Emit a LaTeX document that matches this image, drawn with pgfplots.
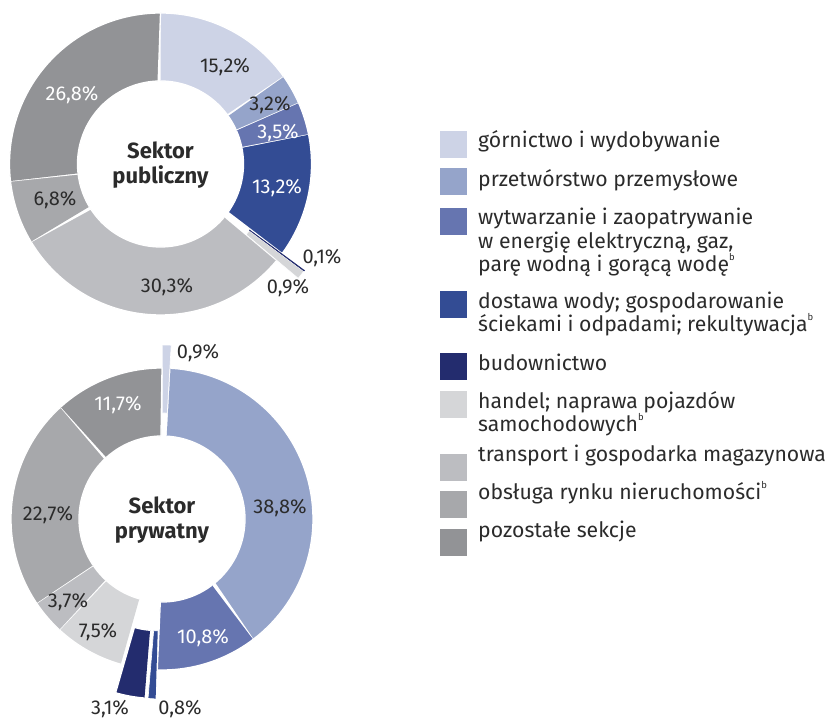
\documentclass[border=0pt]{standalone}
\usepackage{pgfplots}
\pgfplotsset{compat=1.18}
\usepackage{fontspec}
\setmainfont{Fira Sans}

\definecolor{gorn}{HTML}{CDD3E6}
\definecolor{przet}{HTML}{95A4CA}
\definecolor{wytw}{HTML}{6675B0}
\definecolor{dost}{HTML}{334C94}
\definecolor{bud}{HTML}{232C6E}
\definecolor{hand}{HTML}{D5D6D8}
\definecolor{trans}{HTML}{BCBDC1}
\definecolor{obsl}{HTML}{A7A8AB}
\definecolor{pozo}{HTML}{929396}
\definecolor{txt}{HTML}{2B2B2B}

\tikzset{
  lab/.style={font=\fontsize{20}{22}\selectfont, text=txt, inner sep=0pt},
  wlab/.style={font=\fontsize{20}{22}\selectfont, text=white, inner sep=0pt},
  leg/.style={font=\fontsize{21.2}{23}\selectfont, text=txt, anchor=base west, inner sep=0pt},
  box/.style={minimum size=27pt, inner sep=0pt},
  ctr/.style={align=center, text=txt, font=\bfseries\fontsize{22}{25.5}\selectfont},
}

% ring sector: [style]{cx}{cy}{start %}{share %}{colour}{explode}
\newcommand{\sector}[7][draw=white,line width=1.3pt]{%
  \addplot[fill=#6, #1, domain=0:2, samples=121, variable=\t]
  ({#2 + #7*cos(90-3.6*(#4+#5/2)) + (\t<=1 ? 151 : 83)*cos(90-3.6*(#4+#5*(\t<=1 ? \t : 2-\t)))},
   {#3 + #7*sin(90-3.6*(#4+#5/2)) + (\t<=1 ? 151 : 83)*sin(90-3.6*(#4+#5*(\t<=1 ? \t : 2-\t)))});
}
\newcommand{\supb}{\raisebox{0.55em}{\fontsize{9.5}{9.5}\selectfont b}}

\begin{document}
\begin{tikzpicture}
\useasboundingbox (0,0) rectangle (830pt,722pt);
\begin{axis}[
  at={(0,0)}, anchor=south west,
  hide axis, scale only axis,
  width=830pt, height=722pt,
  xmin=0, xmax=830, ymin=0, ymax=722,
  clip=false,
]
% Sektor publiczny
\sector{160.5}{558}{0}{15.2}{gorn}{0}
\sector{160.5}{558}{15.2}{3.2}{przet}{0}
\sector{160.5}{558}{18.4}{3.5}{wytw}{0}
\sector{160.5}{558}{21.9}{13.2}{dost}{0}
\sector[draw=bud,line width=0.7pt]{160.5}{558}{35.1}{0.1}{bud}{28}
\sector[draw=white,line width=0.6pt]{160.5}{558}{35.2}{0.9}{hand}{28}
\sector{160.5}{558}{36.1}{30.3}{trans}{0}
\sector{160.5}{558}{66.4}{6.8}{obsl}{0}
\sector{160.5}{558}{73.2}{26.8}{pozo}{0}

% Sektor prywatny
\sector[draw=white,line width=0.6pt]{162}{203}{0}{0.9}{gorn}{23}
\sector{162}{203}{0.9}{38.8}{przet}{0}
\sector{162}{203}{39.7}{10.8}{wytw}{0}
\sector[draw=white,line width=0.6pt]{162}{203}{50.5}{0.8}{dost}{29}
\sector[draw=white,line width=1.3pt]{162}{203}{51.3}{3.1}{bud}{29}
\sector{162}{203}{54.4}{7.5}{hand}{0}
\sector{162}{203}{61.9}{3.7}{trans}{0}
\sector{162}{203}{65.6}{22.7}{obsl}{0}
\sector{162}{203}{88.3}{11.7}{pozo}{0}

% labels, top
\node[lab]  at (axis cs:225,655) {15,2\%};
\node[lab]  at (axis cs:270,617) {3,2\%};
\node[wlab] at (axis cs:278,589) {3,5\%};
\node[wlab] at (axis cs:277,534) {13,2\%};
\node[lab]  at (axis cs:322,464) {0,1\%};
\node[lab]  at (axis cs:288,434) {0,9\%};
\node[lab]  at (axis cs:167,435) {30,3\%};
\node[lab]  at (axis cs:55,522)  {6,8\%};
\node[wlab] at (axis cs:72,627)  {26,8\%};
\node[ctr] at (axis cs:160.5,557) {Sektor\\publiczny};

% labels, bottom
\node[lab]  at (axis cs:198,369) {0,9\%};
\node[lab]  at (axis cs:280,214) {38,8\%};
\node[wlab] at (axis cs:203,84)  {10,8\%};
\node[lab]  at (axis cs:180,13)  {0,8\%};
\node[lab]  at (axis cs:110,13)  {3,1\%};
\node[lab]  at (axis cs:98,90)   {7,5\%};
\node[lab]  at (axis cs:68,120)  {3,7\%};
\node[lab]  at (axis cs:48,207)  {22,7\%};
\node[wlab] at (axis cs:118,317) {11,7\%};
\node[ctr] at (axis cs:162,202) {Sektor\\prywatny};

% legend
\node[box, fill=gorn]  at (axis cs:453.5,577.5) {};
\node[box, fill=przet] at (axis cs:453.5,540) {};
\node[box, fill=wytw]  at (axis cs:453.5,500) {};
\node[box, fill=dost]  at (axis cs:453.5,417) {};
\node[box, fill=bud]   at (axis cs:453.5,355) {};
\node[box, fill=hand]  at (axis cs:453.5,317) {};
\node[box, fill=trans] at (axis cs:453.5,254) {};
\node[box, fill=obsl]  at (axis cs:453.5,217) {};
\node[box, fill=pozo]  at (axis cs:453.5,179) {};

\node[leg] at (axis cs:478,574) {górnictwo i wydobywanie};
\node[leg] at (axis cs:478,535.5) {przetwórstwo przemysłowe};
\node[leg] at (axis cs:478,497) {wytwarzanie i zaopatrywanie};
\node[leg] at (axis cs:478,473.5) {w energię elektryczną, gaz,};
\node[leg] at (axis cs:478,450) {parę wodną i gorącą wodę\supb};
\node[leg] at (axis cs:478,413) {dostawa wody; gospodarowanie};
\node[leg] at (axis cs:478,390) {ściekami i odpadami; rekultywacja\supb};
\node[leg] at (axis cs:478,351) {budownictwo};
\node[leg] at (axis cs:478,313) {handel; naprawa pojazdów};
\node[leg] at (axis cs:478,290) {samochodowych\supb};
\node[leg] at (axis cs:478,260) {transport i gospodarka magazynowa};
\node[leg] at (axis cs:478,222) {obsługa rynku nieruchomości\supb};
\node[leg] at (axis cs:478,184) {pozostałe sekcje};
\end{axis}
\end{tikzpicture}
\end{document}
